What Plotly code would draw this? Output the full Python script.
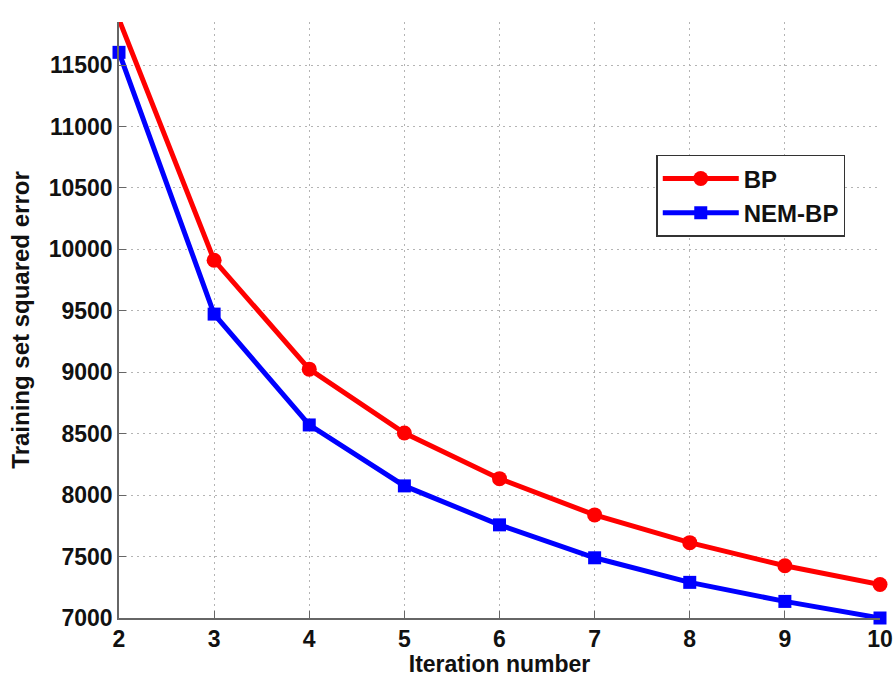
import plotly.graph_objects as go

iterations = [2, 3, 4, 5, 6, 7, 8, 9, 10]
bp_error = [11870, 9911, 9025, 8505, 8134, 7839, 7613, 7425, 7272]
nem_bp_error = [11603, 9473, 8571, 8075, 7758, 7490, 7290, 7135, 7000]
y_ticks = [7000, 7500, 8000, 8500, 9000, 9500, 10000, 10500, 11000, 11500]

FONT = "Liberation Sans"
TXT = "#111111"

fig = go.Figure()
fig.add_trace(go.Scatter(
    x=iterations, y=bp_error, name="BP", mode="lines+markers",
    line=dict(color="#ff0000", width=5),
    marker=dict(symbol="circle", size=15, color="#ff0000"),
    cliponaxis=False,
))
fig.add_trace(go.Scatter(
    x=iterations, y=nem_bp_error, name="NEM-BP", mode="lines+markers",
    line=dict(color="#0000ff", width=5),
    marker=dict(symbol="square", size=13, color="#0000ff"),
    cliponaxis=False,
))

axis_common = dict(
    showgrid=True, gridcolor="#b4b4b4", griddash="2px,4px", gridwidth=1.2,
    showline=True, linecolor="#666666", linewidth=1.5,
    ticks="inside", ticklen=7, tickcolor="#666666",
    tickfont=dict(family=FONT, size=23, color=TXT, weight="bold"),
    zeroline=False, automargin=False,
)

fig.update_xaxes(
    range=[2, 10], tickvals=iterations,
    title=dict(text="Iteration number", font=dict(family=FONT, size=23, color=TXT, weight="bold"), standoff=6),
    **axis_common,
)
fig.update_yaxes(
    range=[7000, 11850], tickvals=y_ticks, tickformat="d",
    title=dict(text="Training set squared error", font=dict(family=FONT, size=24, color=TXT, weight="bold"), standoff=12),
    **axis_common,
)

fig.update_layout(
    width=896, height=677,
    margin=dict(l=119, r=16, t=22, b=59),
    plot_bgcolor="white", paper_bgcolor="white",
    legend=dict(
        x=0.706, y=0.777, xanchor="left", yanchor="top",
        bordercolor="#333333", borderwidth=1.5, bgcolor="white",
        font=dict(family=FONT, size=24, color=TXT, weight="bold"),
        itemwidth=76,
    ),
)

fig.write_html("out.html")
